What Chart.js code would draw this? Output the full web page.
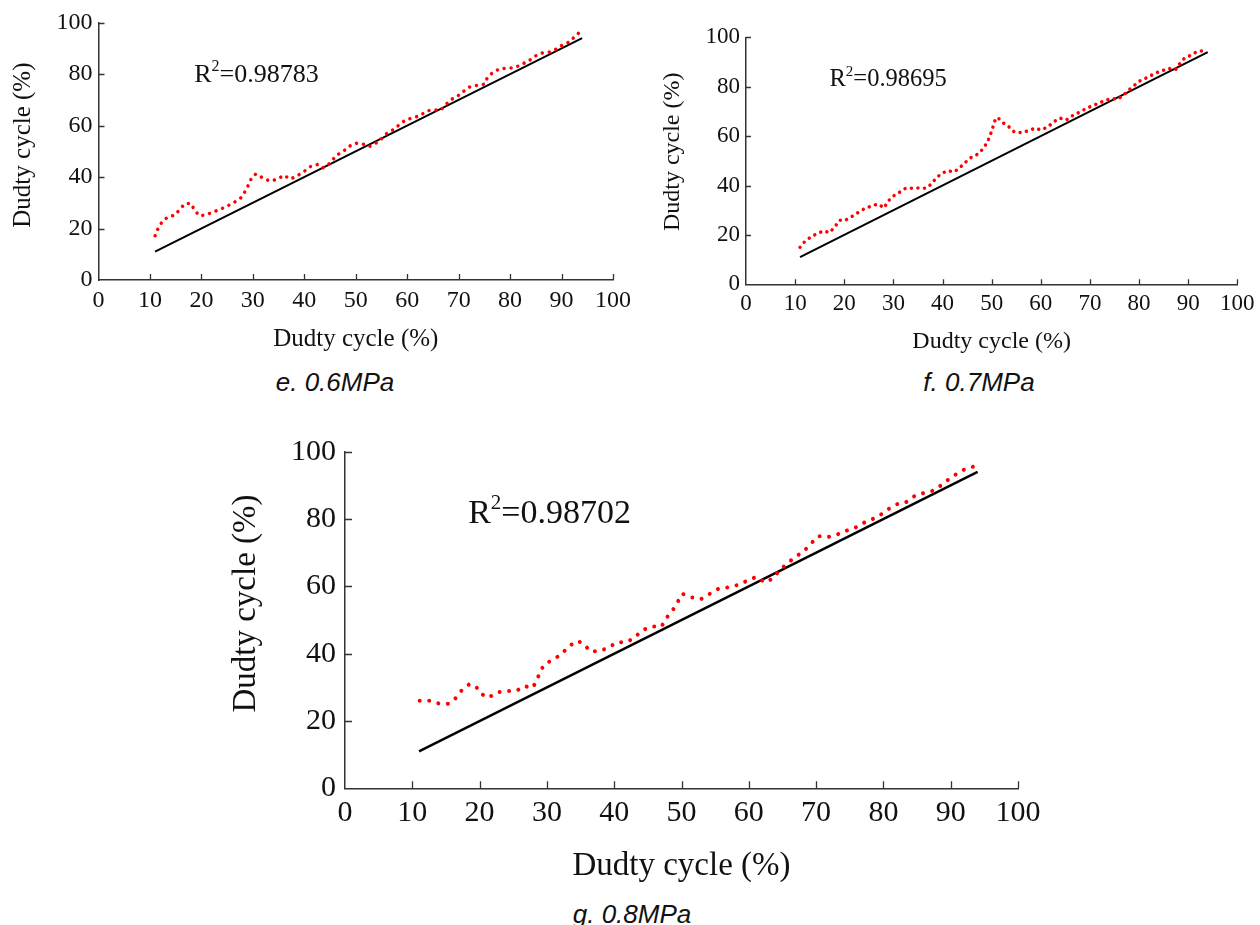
<!DOCTYPE html>
<html>
<head>
<meta charset="utf-8">
<script src="https://cdn.jsdelivr.net/npm/chart.js@4/dist/chart.umd.min.js"></script>
<style>
  html, body { margin: 0; padding: 0; background: #fff; }
  body { width: 1260px; height: 925px; position: relative; overflow: hidden; }
  canvas { position: absolute; }
  .cap { position: absolute; font-family: "Liberation Sans", Arial, sans-serif; font-style: italic;
         font-size: 26px; color: #111; white-space: nowrap; transform: translate(-50%, -50%); }
</style>
</head>
<body>
<canvas id="ce" width="640" height="360" style="left:0px;top:0px"></canvas>
<canvas id="cf" width="620" height="360" style="left:640px;top:0px"></canvas>
<canvas id="cg" width="850" height="470" style="left:200px;top:420px"></canvas>
<div class="cap" id="cap0" style="left:335px;top:382px"></div>
<div class="cap" id="cap1" style="left:979px;top:382px"></div>
<div class="cap" id="cap2" style="left:632px;top:914px"></div>
<script>
// ---- data ----
const axisTitle = "Dudty cycle (%)";
const captions = ["e. 0.6MPa", "f. 0.7MPa", "g. 0.8MPa"];
const r2Labels = ["0.98783", "0.98695", "0.98702"];

const fit_x = [11, 94];
const fit_y = [11, 94];

const e_x = [11.0,11.6,12.3,13.4,14.9,15.8,16.8,18.0,18.7,19.7,21.0,22.5,23.8,25.0,26.4,27.6,28.5,29.2,29.8,30.6,31.9,33.4,34.8,36.0,37.3,38.7,39.9,41.2,42.6,43.6,44.5,45.4,46.3,47.7,48.7,50.0,51.5,52.7,54.0,55.1,56.2,57.4,58.6,59.7,61.2,62.5,63.8,65.1,66.5,67.4,68.4,69.7,70.8,72.2,73.5,75.0,75.6,76.6,78.0,79.4,80.9,82.3,83.6,84.7,86.2,87.6,88.9,90.2,91.6,92.6,93.7];
const e_y = [17.2,20.1,22.4,24.4,25.3,27.5,29.7,29.7,27.0,24.9,25.4,26.6,27.6,28.7,30.2,31.8,34.4,37.1,39.9,41.2,39.7,38.4,39.2,40.7,39.2,40.6,42.1,44.1,44.9,43.6,44.5,46.4,48.5,50.2,51.9,53.2,52.8,51.9,53.3,55.1,57.3,58.5,60.6,62.2,63.1,63.9,65.7,66.1,66.0,67.9,70.0,71.3,73.1,75.1,75.6,76.1,78.7,80.6,82.1,82.3,82.5,83.9,85.1,86.9,88.2,88.6,89.7,91.4,92.6,94.7,96.6];

const f_x = [11.0,12.0,13.1,14.5,15.9,17.0,18.1,19.0,20.2,21.5,22.8,24.0,25.5,26.9,28.1,28.9,29.9,31.2,32.5,33.9,35.3,36.6,37.7,38.7,39.7,41.0,42.4,43.5,44.6,45.8,47.0,48.2,49.1,49.7,50.2,50.6,51.2,52.4,53.5,54.6,56.0,57.6,58.8,60.1,61.5,62.5,63.9,65.2,66.4,67.7,69.1,70.5,71.9,73.1,74.5,75.7,76.8,78.0,79.1,80.4,81.8,83.1,84.6,86.1,87.4,88.2,89.2,90.4,91.8,93.1];
const f_y = [15.0,17.4,19.0,20.6,21.6,20.9,23.3,25.9,25.9,27.4,29.0,30.5,31.7,32.5,30.9,33.6,35.6,37.2,38.9,38.9,39.0,38.9,40.5,43.0,44.7,46.0,45.5,47.2,49.3,51.3,52.5,54.7,57.4,60.3,63.2,66.0,67.6,65.3,63.8,61.7,61.4,62.2,63.2,62.5,63.8,65.6,67.3,66.5,68.2,69.5,71.0,72.3,73.3,74.5,75.2,74.9,76.5,78.8,80.6,82.7,83.8,85.3,86.4,87.4,86.8,89.1,91.4,92.6,94.2,94.6];

const g_x = [11.1,12.6,13.9,15.3,16.4,17.3,18.4,19.4,20.1,21.3,22.6,24.1,25.5,26.7,27.7,28.4,28.9,29.6,30.8,32.1,33.2,34.5,35.5,36.4,37.7,39.1,40.4,41.8,43.0,44.1,45.6,47.0,47.8,48.7,49.5,50.1,51.6,52.9,54.3,55.6,57.1,58.5,59.9,61.1,62.5,63.6,64.6,65.6,66.8,68.1,69.2,70.3,71.7,73.0,74.3,75.7,76.9,78.3,79.4,80.7,82.0,83.3,84.4,85.8,87.2,88.3,89.5,90.8,92.1,93.6];
const g_y = [26.0,26.0,25.2,25.1,26.7,29.0,30.8,30.5,28.2,26.9,28.5,28.9,29.0,30.4,29.7,31.4,34.2,36.8,38.1,39.7,42.1,43.8,42.9,40.7,40.7,41.7,43.4,43.4,44.7,46.9,48.1,48.0,50.7,52.9,55.6,57.8,56.7,56.2,57.9,59.4,59.7,60.5,61.8,62.8,61.1,62.4,64.8,66.6,68.6,70.3,72.6,74.9,74.6,75.3,76.4,77.3,78.7,79.9,81.0,82.9,84.4,84.9,86.6,87.6,88.3,89.6,91.5,93.3,94.8,95.7];

captions.forEach((c, i) => { document.getElementById('cap' + i).textContent = c; });

// ---- helpers ----
function zip(xs, ys) {
  const n = Math.min(xs.length, ys.length);
  const out = [];
  for (let i = 0; i < n; i++) out.push({x: xs[i], y: ys[i]});
  return out;
}

const SERIF = '"Liberation Serif", "Times New Roman", serif';

const innerTicks = {
  id: 'innerTicks',
  afterDatasetsDraw(chart, args, opts) {
    const ctx = chart.ctx;
    const xs = chart.scales.x, ys = chart.scales.y;
    const a = chart.chartArea;
    ctx.save();
    ctx.strokeStyle = '#333';
    ctx.lineWidth = opts.width || 1.3;
    ctx.beginPath();
    xs.ticks.forEach(t => {
      if (t.value === 0) return;
      const p = Math.round(xs.getPixelForValue(t.value)) + 0.5;
      ctx.moveTo(p, a.bottom);
      ctx.lineTo(p, a.bottom - opts.len);
    });
    ys.ticks.forEach(t => {
      if (t.value === 0) return;
      const p = Math.round(ys.getPixelForValue(t.value)) + 0.5;
      ctx.moveTo(a.left, p);
      ctx.lineTo(a.left + opts.len, p);
    });
    ctx.stroke();
    ctx.restore();
  }
};

const r2Plugin = {
  id: 'r2',
  afterDatasetsDraw(chart, args, opts) {
    const ctx = chart.ctx;
    const px = chart.scales.x.getPixelForValue(opts.x);
    const py = chart.scales.y.getPixelForValue(opts.y);
    ctx.save();
    ctx.fillStyle = '#111';
    ctx.textBaseline = 'alphabetic';
    ctx.textAlign = 'left';
    ctx.font = opts.size + 'px ' + SERIF;
    ctx.fillText('R', px, py);
    let w = ctx.measureText('R').width;
    ctx.font = Math.round(opts.size * 0.62) + 'px ' + SERIF;
    ctx.fillText('2', px + w, py - opts.size * 0.42);
    w += ctx.measureText('2').width;
    ctx.font = opts.size + 'px ' + SERIF;
    ctx.fillText('=' + opts.text, px + w, py);
    ctx.restore();
  }
};

function makeChart(id, red, cfg) {
  const tickFont = {family: SERIF, size: cfg.tickSize, lineHeight: 1.2};
  const titleFont = {family: SERIF, size: cfg.titleSize, lineHeight: 1.2};
  const border = {display: true, color: '#333', width: 1.5};
  return new Chart(document.getElementById(id), {
    type: 'line',
    data: {
      datasets: [
        {
          data: zip(fit_x, fit_y),
          borderColor: '#000',
          borderWidth: cfg.fitWidth,
          pointRadius: 0,
          tension: 0,
          order: 2
        },
        {
          data: red,
          borderColor: '#ff0000',
          borderWidth: cfg.dotSize,
          borderDash: [0.01, cfg.dotGap],
          borderCapStyle: 'round',
          pointRadius: 0,
          tension: 0,
          order: 1
        }
      ]
    },
    options: {
      responsive: false,
      animation: false,
      devicePixelRatio: 1,
      layout: {padding: {left: 0, top: cfg.padTop, right: cfg.padRight, bottom: 0}},
      plugins: {
        legend: {display: false},
        tooltip: {enabled: false},
        innerTicks: {len: cfg.tickLen},
        r2: {x: cfg.r2x, y: cfg.r2y, size: cfg.r2Size, text: cfg.r2Text}
      },
      scales: {
        x: {
          type: 'linear', min: 0, max: 100,
          grid: {display: false, drawTicks: false},
          border: border,
          ticks: {stepSize: 10, color: '#111', font: tickFont, padding: cfg.xTickPad, maxRotation: 0, autoSkip: false},
          title: {display: true, text: axisTitle, color: '#111', font: titleFont, padding: {top: 0, bottom: cfg.xTitlePad}},
          afterFit: s => { s.height = cfg.xAxisH; }
        },
        y: {
          type: 'linear', min: 0, max: 100,
          grid: {display: false, drawTicks: false},
          border: border,
          ticks: {stepSize: 20, color: '#111', font: tickFont, padding: cfg.yTickPad},
          title: {display: true, text: ' '.repeat(cfg.yTitleShift) + axisTitle, color: '#111', font: titleFont, padding: {top: cfg.yTitlePad, bottom: 0}},
          afterFit: s => { s.width = cfg.yAxisW; }
        }
      }
    },
    plugins: [innerTicks, r2Plugin]
  });
}

makeChart('ce', zip(e_x, e_y), {
  tickSize: 24, titleSize: 25, padTop: 22.7, padRight: 27,
  xAxisH: 80, yAxisW: 98.5, xTickPad: 6, yTickPad: 6, xTitlePad: 5.2, yTitlePad: 8.2, yTitleShift: 2,
  tickLen: 6, fitWidth: 2, dotSize: 3.5, dotGap: 7,
  r2x: 18.6, r2y: 77, r2Size: 26, r2Text: r2Labels[0]
});
makeChart('cf', zip(f_x, f_y), {
  tickSize: 23, titleSize: 24, padTop: 37.3, padRight: 20,
  xAxisH: 75.7, yAxisW: 106, xTickPad: 5.5, yTickPad: 6, xTitlePad: 4, yTitlePad: 18.6, yTitleShift: 3,
  tickLen: 5, fitWidth: 2, dotSize: 3.5, dotGap: 6.5,
  r2x: 17.0, r2y: 80.3, r2Size: 24.5, r2Text: r2Labels[1]
});
makeChart('cg', zip(g_x, g_y), {
  tickSize: 30, titleSize: 33, padTop: 31.7, padRight: 32,
  xAxisH: 101.7, yAxisW: 145, xTickPad: 7, yTickPad: 9, xTitlePad: 4.2, yTitlePad: 27, yTitleShift: 4,
  tickLen: 7, fitWidth: 2.5, dotSize: 4, dotGap: 9.5,
  r2x: 18.3, r2y: 78.7, r2Size: 34, r2Text: r2Labels[2]
});
</script>
</body>
</html>
